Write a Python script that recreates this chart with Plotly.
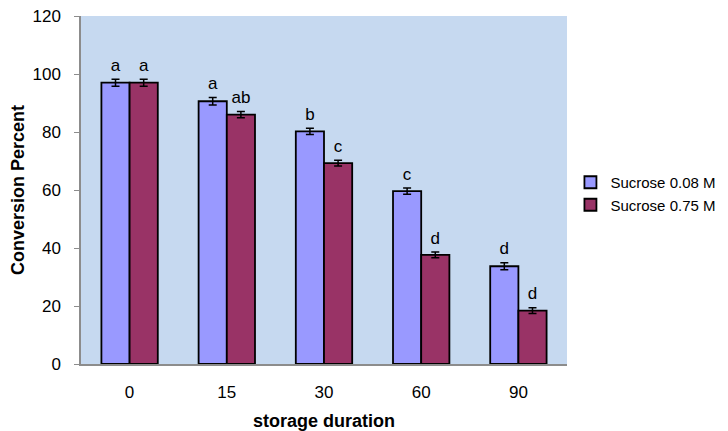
import plotly.graph_objects as go

categories = ["0", "15", "30", "60", "90"]
sucrose_008 = [97.0, 90.6, 80.2, 59.6, 33.7]
sucrose_075 = [97.0, 86.0, 69.3, 37.6, 18.4]
err_008 = [1.2, 1.3, 1.1, 1.1, 1.2]
err_075 = [1.2, 1.1, 1.0, 1.0, 1.0]
letters_008 = ["a", "a", "b", "c", "d"]
letters_075 = ["a", "ab", "c", "d", "d"]
y_ticks = [0, 20, 40, 60, 80, 100, 120]

FONT = "Liberation Sans, Arial, sans-serif"

fig = go.Figure()
series = [
    ("Sucrose 0.08 M", sucrose_008, err_008, letters_008, "#9999FF", "g1"),
    ("Sucrose 0.75 M", sucrose_075, err_075, letters_075, "#993366", "g2"),
]
for name, vals, errs, lets, color, grp in series:
    fig.add_trace(go.Bar(
        name=name, x=categories, y=vals, offsetgroup=grp,
        marker=dict(color=color, line=dict(color="black", width=1.8)),
        error_y=dict(type="data", array=errs, color="black", thickness=1.5, width=4),
    ))
for name, vals, errs, lets, color, grp in series:
    fig.add_trace(go.Scatter(
        x=categories, y=[v + e for v, e in zip(vals, errs)], text=lets,
        mode="markers+text", textposition="top center", offsetgroup=grp,
        marker=dict(size=5, color="rgba(0,0,0,0)"),
        textfont=dict(family=FONT, size=17, color="black"),
        showlegend=False, hoverinfo="skip",
    ))

fig.update_layout(
    width=720, height=423,
    margin=dict(l=73, r=160, t=8, b=67),
    paper_bgcolor="white",
    plot_bgcolor="#C6D9F0",
    barmode="group",
    scattermode="group",
    bargap=0.42,
    bargroupgap=0,
    font=dict(family=FONT, size=16, color="black"),
    showlegend=True,
    legend=dict(x=1.005, y=0.49, xanchor="left", yanchor="middle",
                font=dict(family=FONT, size=15, color="black"),
                itemwidth=30, tracegroupgap=3, bgcolor="rgba(0,0,0,0)"),
    xaxis=dict(
        type="category", automargin=False,
        title=dict(text="<b>storage duration</b>", font=dict(family=FONT, size=18), standoff=17),
        showline=True, linecolor="#8C8C8C", linewidth=1.5,
        ticks="outside", ticklen=12, tickcolor="rgba(0,0,0,0)",
        tickfont=dict(family=FONT, size=17), showgrid=False,
    ),
    yaxis=dict(
        automargin=False,
        title=dict(text="<b>Conversion Percent</b>", font=dict(family=FONT, size=18), standoff=10),
        range=[0, 120], tickvals=y_ticks, showgrid=False, zeroline=False,
        showline=True, linecolor="#8C8C8C", linewidth=1.5,
        ticks="outside", ticklen=5, tickcolor="#8C8C8C",
        ticklabelstandoff=10, ticklabeloverflow="allow",
        tickfont=dict(family=FONT, size=17),
    ),
)

fig.write_html("out.html")
